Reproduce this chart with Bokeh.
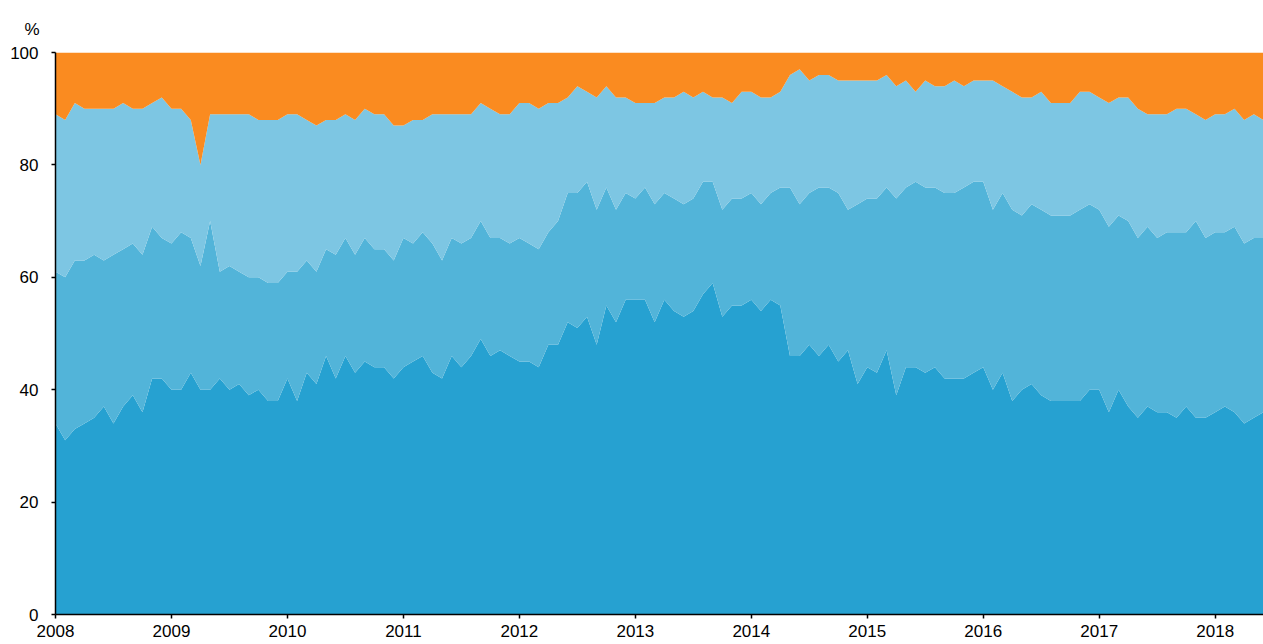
from bokeh.plotting import figure
from bokeh.models import ColumnDataSource, FixedTicker, Title, Range1d
from bokeh.embed import file_html
from bokeh.resources import INLINE

# Monthly observations, Jan 2008 .. Jun 2018 (126 months)
start_year = 2008
n_months = 126

# Cumulative boundaries (percent)
# top of the first (dark blue) layer
cum_layer1 = [34, 31, 33, 34, 35, 37, 34, 37, 39, 36, 42, 42, 40, 40, 43, 40, 40, 42, 40, 41, 39, 40,
              38, 38, 42, 38, 43, 41, 46, 42, 46, 43, 45, 44, 44, 42, 44, 45, 46, 43, 42, 46,
              44, 46, 49, 46, 47, 46, 45, 45, 44, 48, 48, 52, 51, 53, 48, 55, 52, 56, 56, 56, 52, 56,
              54, 53, 54, 57, 59, 53, 55, 55, 56, 54, 56, 55, 46, 46, 48, 46, 48, 45, 47, 41, 44,
              43, 47, 39, 44, 44, 43, 44, 42, 42, 42, 43, 44, 40, 43, 38, 40, 41, 39, 38, 38, 38,
              38, 40, 40, 36, 40, 37, 35, 37, 36, 36, 35, 37, 35, 35, 36, 37, 36, 34, 35, 36]
# top of the second (medium blue) layer
cum_layer2 = [61, 60, 63, 63, 64, 63, 64, 65, 66, 64, 69, 67, 66, 68, 67, 62, 70, 61, 62, 61, 60, 60,
              59, 59, 61, 61, 63, 61, 65, 64, 67, 64, 67, 65, 65, 63, 67, 66, 68, 66, 63, 67,
              66, 67, 70, 67, 67, 66, 67, 66, 65, 68, 70, 75, 75, 77, 72, 76, 72, 75, 74, 76, 73, 75,
              74, 73, 74, 77, 77, 72, 74, 74, 75, 73, 75, 76, 76, 73, 75, 76, 76, 75, 72, 73, 74,
              74, 76, 74, 76, 77, 76, 76, 75, 75, 76, 77, 77, 72, 75, 72, 71, 73, 72, 71, 71, 71,
              72, 73, 72, 69, 71, 70, 67, 69, 67, 68, 68, 68, 70, 67, 68, 68, 69, 66, 67, 67]
# top of the third (light blue) layer
cum_layer3 = [89, 88, 91, 90, 90, 90, 90, 91, 90, 90, 91, 92, 90, 90, 88, 80, 89, 89, 89, 89, 89, 88,
              88, 88, 89, 89, 88, 87, 88, 88, 89, 88, 90, 89, 89, 87, 87, 88, 88, 89, 89, 89,
              89, 89, 91, 90, 89, 89, 91, 91, 90, 91, 91, 92, 94, 93, 92, 94, 92, 92, 91, 91, 91, 92,
              92, 93, 92, 93, 92, 92, 91, 93, 93, 92, 92, 93, 96, 97, 95, 96, 96, 95, 95, 95, 95,
              95, 96, 94, 95, 93, 95, 94, 94, 95, 94, 95, 95, 95, 94, 93, 92, 92, 93, 91, 91, 91,
              93, 93, 92, 91, 92, 92, 90, 89, 89, 89, 90, 90, 89, 88, 89, 89, 90, 88, 89, 88]
total = [100] * n_months

year_ticks = list(range(2008, 2019))
y_ticks = [0, 20, 40, 60, 80, 100]

colors = ["#26a1d1", "#52b4d9", "#7dc6e3", "#fa8b20"]

x = [start_year + i / 12 for i in range(n_months)]
zero = [0] * n_months

source = ColumnDataSource(dict(x=x, zero=zero, c1=cum_layer1, c2=cum_layer2,
                               c3=cum_layer3, top=total))

p = figure(width=1263, height=644, output_backend="svg", toolbar_location=None,
           x_range=Range1d(x[0], x[-1]), y_range=Range1d(0, 100))
p.min_border_left = 55
p.min_border_right = 0
p.min_border_top = 52
p.min_border_bottom = 30
p.outline_line_color = None
p.background_fill_color = "white"
p.border_fill_color = "white"

p.varea(x="x", y1="zero", y2="c1", source=source, fill_color=colors[0])
p.varea(x="x", y1="c1", y2="c2", source=source, fill_color=colors[1])
p.varea(x="x", y1="c2", y2="c3", source=source, fill_color=colors[2])
p.varea(x="x", y1="c3", y2="top", source=source, fill_color=colors[3])

p.xgrid.visible = False
p.ygrid.visible = False

for ax in (p.xaxis[0], p.yaxis[0]):
    ax.axis_line_color = "black"
    ax.axis_line_width = 1.5
    ax.major_tick_line_color = "black"
    ax.major_tick_line_width = 1.5
    ax.major_tick_out = 4
    ax.major_tick_in = 0
    ax.minor_tick_line_color = None
    ax.major_label_text_font = "Liberation Sans"
    ax.major_label_text_font_size = "17px"
    ax.major_label_text_color = "black"

p.xaxis.ticker = FixedTicker(ticks=year_ticks)
p.xaxis.major_label_standoff = 6
p.yaxis.ticker = FixedTicker(ticks=y_ticks)
p.yaxis.major_label_standoff = 13

pct = Title(text="%", align="left", offset=-31, standoff=28,
            text_font="Liberation Sans", text_font_size="17px",
            text_font_style="normal", text_color="black")
p.add_layout(pct, "above")

open("out.html", "w").write(file_html(p, INLINE))
